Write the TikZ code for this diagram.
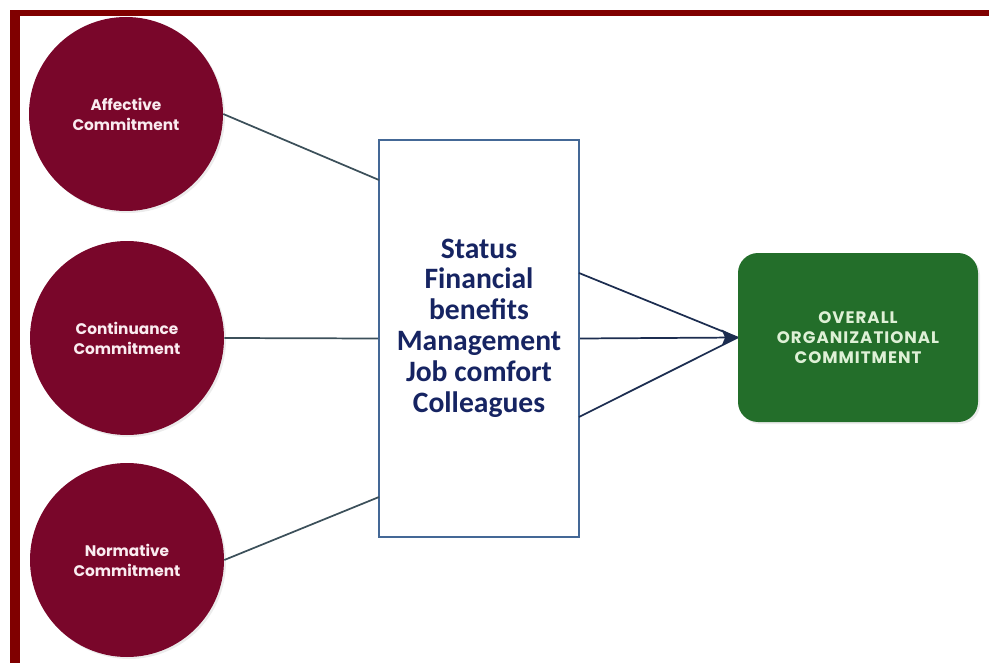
\documentclass[tikz,border=0pt]{standalone}
\usepackage{fontspec}
\setmainfont{Carlito}
\newfontfamily\roundfont{Poppins}
\newfontfamily\widefont[LetterSpace=6]{Poppins}
\usepackage{tikz}
\usetikzlibrary{arrows.meta,shadows}

\definecolor{framered}{RGB}{128,0,0}
\definecolor{circred}{RGB}{121,6,42}
\definecolor{circtext}{RGB}{250,236,240}
\definecolor{boxblue}{RGB}{68,104,150}
\definecolor{listnavy}{RGB}{22,36,98}
\definecolor{linegray}{RGB}{60,80,90}
\definecolor{feednavy}{RGB}{28,45,80}
\definecolor{overgreen}{RGB}{35,110,42}
\definecolor{overtext}{RGB}{222,240,214}

\tikzset{
  commit/.style={circle,fill=circred,minimum size=145.5pt,inner sep=0pt,
    text=circtext,align=center,font=\roundfont\bfseries\fontsize{11.5}{15}\selectfont,
    drop shadow={shadow xshift=1.5pt,shadow yshift=-1.5pt,opacity=0.15}},
  factbox/.style={draw=boxblue,line width=1.5pt,fill=white,inner sep=0pt,
    minimum width=150pt,minimum height=297.75pt},
  factlist/.style={text=listnavy,align=center,inner sep=0pt,
    font=\bfseries\fontsize{22.2}{23.1}\selectfont},
  overall/.style={fill=overgreen,rounded corners=15pt,inner sep=0pt,
    minimum width=180pt,minimum height=126.75pt,text=overtext,align=center,
    font=\widefont\bfseries\fontsize{12.5}{15}\selectfont,
    drop shadow={shadow xshift=1.5pt,shadow yshift=-1.5pt,opacity=0.15}},
  link/.style={draw=linegray,line width=1.3pt},
  feed/.style={draw=feednavy,line width=1.3pt}
}

\begin{document}
\begin{tikzpicture}[x=0.75pt,y=0.75pt,yscale=-1,xscale=1]
        \useasboundingbox (0,0) rectangle (989,663);
        
        %Frame
        \fill [framered] (10,10.5) rectangle (989,16.5);
        \fill [framered] (10,10.5) rectangle (19.5,663);
        
        % Text Node
        \draw (126,114) node [commit] (aff) {Affective\\Commitment};
        % Text Node
        \draw (127,338) node [commit] (cont) {Continuance\\Commitment};
        % Text Node
        \draw (127,560) node [commit] (norm) {Normative\\Commitment};
        
        % Text Node
        \draw (479,338.5) node [factbox] (fact) {};
        \draw (479,328) node [factlist] (factors) {Status\\Financial\\benefits\\Management\\Job comfort\\Colleagues};
        
        % Text Node
        \draw (858,337.5) node [overall] (over) {OVERALL\\ORGANIZATIONAL\\COMMITMENT};
        
        \coordinate (inaff) at (379,180);
        \coordinate (innorm) at (379,497);
        \coordinate (outup) at (579,273);
        \coordinate (outdown) at (579,417);
        
        %Straight Lines
        \draw [link] (aff.east) -- (inaff);
        \draw [link] (cont.east) -- (fact.west);
        \draw [link] (norm.east) -- (innorm);
        
        %Straight Lines
        \draw [feed] (outup) -- (over.west);
        \draw [feed] (outdown) -- (over.west);
        \draw [feed,-{Stealth[length=12pt,width=12pt,inset=2.5pt]}] (fact.east) -- (over.west);
        
\end{tikzpicture}
\end{document}
